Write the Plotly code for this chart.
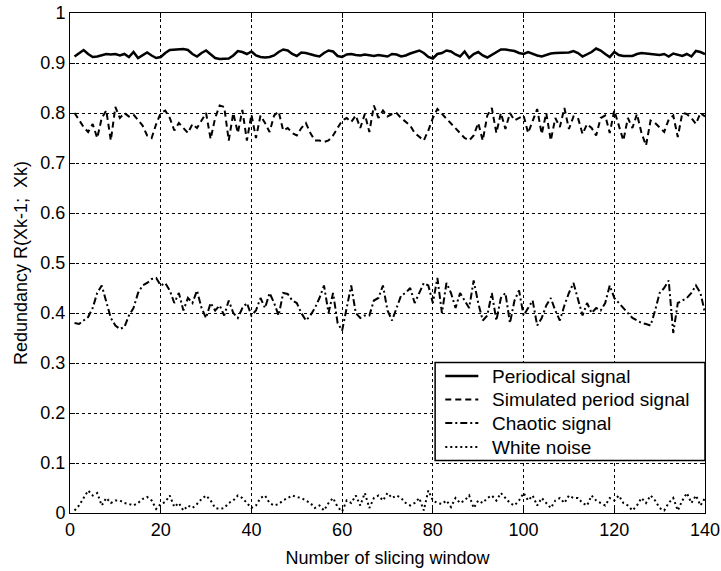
import plotly.graph_objects as go

# Slicing-window index
window = list(range(1, 141))

periodical = [
    0.913, 0.920, 0.926, 0.918, 0.912, 0.913, 0.916, 0.918, 0.917, 0.918,
    0.915, 0.918, 0.912, 0.922, 0.910, 0.916, 0.921, 0.915, 0.910, 0.912,
    0.920, 0.926, 0.927, 0.927, 0.928, 0.926, 0.918, 0.913, 0.920, 0.925,
    0.917, 0.910, 0.908, 0.908, 0.909, 0.915, 0.924, 0.922, 0.918, 0.923,
    0.915, 0.912, 0.911, 0.912, 0.915, 0.922, 0.927, 0.925, 0.918, 0.914,
    0.921, 0.920, 0.917, 0.915, 0.913, 0.920, 0.925, 0.923, 0.914, 0.912,
    0.917, 0.918, 0.916, 0.915, 0.917, 0.916, 0.914, 0.916, 0.915, 0.913,
    0.918, 0.917, 0.913, 0.915, 0.919, 0.922, 0.925, 0.920, 0.912, 0.909,
    0.918, 0.920, 0.925, 0.923, 0.917, 0.913, 0.923, 0.910, 0.918, 0.922,
    0.915, 0.911, 0.916, 0.922, 0.927, 0.927, 0.926, 0.924, 0.920, 0.918,
    0.922, 0.918, 0.915, 0.913, 0.916, 0.919, 0.920, 0.920, 0.921, 0.921,
    0.924, 0.920, 0.913, 0.917, 0.922, 0.929, 0.925, 0.918, 0.912, 0.922,
    0.916, 0.914, 0.914, 0.914, 0.918, 0.920, 0.919, 0.918, 0.917, 0.916,
    0.918, 0.913, 0.919, 0.916, 0.914, 0.918, 0.913, 0.924, 0.922, 0.918,
]

simulated = [
    0.800, 0.785, 0.772, 0.762, 0.778, 0.750, 0.790, 0.805, 0.745, 0.812,
    0.790, 0.800, 0.793, 0.797, 0.787, 0.775, 0.755, 0.750, 0.778, 0.800,
    0.805, 0.790, 0.765, 0.780, 0.770, 0.760, 0.778, 0.770, 0.785, 0.800,
    0.748, 0.790, 0.815, 0.812, 0.745, 0.800, 0.760, 0.806, 0.745, 0.797,
    0.750, 0.795, 0.780, 0.762, 0.795, 0.803, 0.765, 0.770, 0.760, 0.755,
    0.770, 0.780, 0.760, 0.745, 0.745, 0.742, 0.745, 0.755, 0.770, 0.785,
    0.790, 0.782, 0.795, 0.770, 0.798, 0.762, 0.815, 0.790, 0.805, 0.793,
    0.798, 0.800, 0.790, 0.783, 0.775, 0.760, 0.752, 0.745, 0.765, 0.790,
    0.808, 0.798, 0.790, 0.780, 0.770, 0.760, 0.750, 0.745, 0.755, 0.780,
    0.745, 0.795, 0.810, 0.760, 0.800, 0.768, 0.800, 0.785, 0.790, 0.795,
    0.760, 0.785, 0.808, 0.758, 0.800, 0.745, 0.790, 0.772, 0.810, 0.768,
    0.793, 0.790, 0.758, 0.778, 0.770, 0.755, 0.790, 0.795, 0.760, 0.805,
    0.775, 0.745, 0.790, 0.770, 0.798, 0.760, 0.735, 0.785, 0.780, 0.770,
    0.762, 0.787, 0.795, 0.752, 0.800, 0.798, 0.790, 0.778, 0.800, 0.793,
]

chaotic = [
    0.380, 0.378, 0.385, 0.392, 0.410, 0.440, 0.455, 0.420, 0.390, 0.375,
    0.368, 0.372, 0.395, 0.410, 0.440, 0.455, 0.460, 0.468, 0.470, 0.455,
    0.460, 0.445, 0.420, 0.440, 0.405, 0.430, 0.420, 0.445, 0.410, 0.390,
    0.420, 0.405, 0.415, 0.395, 0.425, 0.400, 0.390, 0.410, 0.420, 0.395,
    0.405, 0.430, 0.410, 0.440, 0.420, 0.395, 0.440, 0.438, 0.425, 0.420,
    0.400, 0.385, 0.395, 0.410, 0.430, 0.455, 0.400, 0.440, 0.380, 0.365,
    0.410, 0.455, 0.400, 0.390, 0.395, 0.395, 0.425, 0.430, 0.455, 0.405,
    0.385, 0.410, 0.435, 0.440, 0.450, 0.420, 0.440, 0.460, 0.455, 0.420,
    0.470, 0.400, 0.460, 0.440, 0.410, 0.440, 0.425, 0.410, 0.465, 0.420,
    0.385, 0.395, 0.440, 0.385, 0.430, 0.440, 0.380, 0.425, 0.445, 0.395,
    0.410, 0.425, 0.375, 0.390, 0.415, 0.430, 0.405, 0.385, 0.415, 0.440,
    0.460, 0.430, 0.395, 0.420, 0.400, 0.410, 0.405, 0.420, 0.455, 0.430,
    0.420, 0.410, 0.400, 0.390, 0.385, 0.380, 0.378, 0.375, 0.405, 0.440,
    0.450, 0.465, 0.360, 0.420, 0.425, 0.430, 0.440, 0.455, 0.440, 0.400,
]

white_noise = [
    0.005, 0.015, 0.030, 0.045, 0.035, 0.040, 0.015, 0.030, 0.020, 0.025,
    0.025, 0.020, 0.018, 0.015, 0.020, 0.028, 0.032, 0.025, 0.008, 0.018,
    0.022, 0.035, 0.012, 0.020, 0.005, 0.015, 0.010, 0.018, 0.028, 0.035,
    0.025, 0.010, 0.008, 0.010, 0.020, 0.025, 0.035, 0.030, 0.020, 0.010,
    0.015, 0.030, 0.035, 0.020, 0.015, 0.018, 0.025, 0.030, 0.035, 0.032,
    0.030, 0.025, 0.020, 0.010, 0.015, 0.005, 0.020, 0.030, 0.012, 0.003,
    0.025, 0.020, 0.035, 0.015, 0.040, 0.010, 0.030, 0.035, 0.025, 0.040,
    0.030, 0.035, 0.030, 0.020, 0.015, 0.020, 0.030, 0.005, 0.045, 0.025,
    0.020, 0.018, 0.025, 0.012, 0.030, 0.020, 0.025, 0.035, 0.010, 0.025,
    0.020, 0.030, 0.035, 0.025, 0.040, 0.030, 0.020, 0.015, 0.025, 0.040,
    0.025, 0.035, 0.015, 0.030, 0.020, 0.010, 0.025, 0.030, 0.020, 0.035,
    0.030, 0.030, 0.020, 0.015, 0.035, 0.025, 0.020, 0.015, 0.030, 0.025,
    0.035, 0.020, 0.015, 0.005, 0.015, 0.030, 0.020, 0.035, 0.025, 0.010,
    0.005, 0.020, 0.030, 0.005, 0.025, 0.040, 0.020, 0.035, 0.015, 0.030,
]

series_names = ["Periodical signal", "Simulated period signal",
                "Chaotic signal", "White noise"]
series_values = [periodical, simulated, chaotic, white_noise]
series_dash = ["solid", "6px,4px", "7px,3px,2px,3px", "2px,3px"]
series_width = [2.5, 2, 2, 2]

FONT = "Liberation Sans, Arial, sans-serif"

fig = go.Figure()
for name, vals, dash, w in zip(series_names, series_values, series_dash, series_width):
    fig.add_trace(go.Scatter(
        x=window, y=vals, name=name, mode="lines", showlegend=False,
        line=dict(color="black", width=w, dash=dash),
    ))

axis_common = dict(
    showline=True, linecolor="black", linewidth=1, mirror="ticks",
    ticks="inside", ticklen=5, tickcolor="black", tickwidth=1,
    showgrid=True, gridcolor="black", gridwidth=1, griddash="3px,3px",
    zeroline=False, automargin=False,
    tickfont=dict(family=FONT, size=18, color="black"),
)

fig.update_xaxes(range=[0, 140], dtick=20, tick0=0,
                 title=dict(text="Number of slicing window",
                            font=dict(family=FONT, size=18, color="black"),
                            standoff=12),
                 **axis_common)
fig.update_yaxes(range=[0, 1], dtick=0.1, tick0=0,
                 title=dict(text="Redundancy R(Xk-1;\u00a0 Xk)",
                            font=dict(family=FONT, size=18, color="black"),
                            standoff=8),
                 **axis_common)

# Legend box in the lower right corner of the axes (paper coordinates)
box_x0, box_x1 = 0.575, 1.0
box_y0, box_y1 = 0.105, 0.301
sample_x0, sample_x1 = 0.591, 0.643
text_x = 0.661
row_y = [0.274, 0.227, 0.180, 0.132]

shapes = [dict(type="rect", xref="paper", yref="paper",
               x0=box_x0, x1=box_x1, y0=box_y0, y1=box_y1,
               line=dict(color="black", width=1.5), fillcolor="white",
               layer="above")]
annotations = []
for name, dash, w, yy in zip(series_names, series_dash, series_width, row_y):
    shapes.append(dict(type="line", xref="paper", yref="paper",
                       x0=sample_x0, x1=sample_x1, y0=yy, y1=yy,
                       line=dict(color="black", width=w, dash=dash),
                       layer="above"))
    annotations.append(dict(xref="paper", yref="paper", x=text_x, y=yy,
                            xanchor="left", yanchor="middle", showarrow=False,
                            text=name,
                            font=dict(family=FONT, size=19, color="black")))

fig.update_layout(
    width=721, height=571,
    margin=dict(l=70, r=16, t=13, b=58),
    paper_bgcolor="white", plot_bgcolor="white",
    font=dict(family=FONT, size=18, color="black"),
    showlegend=False,
    shapes=shapes,
    annotations=annotations,
)

fig.write_html("out.html")
